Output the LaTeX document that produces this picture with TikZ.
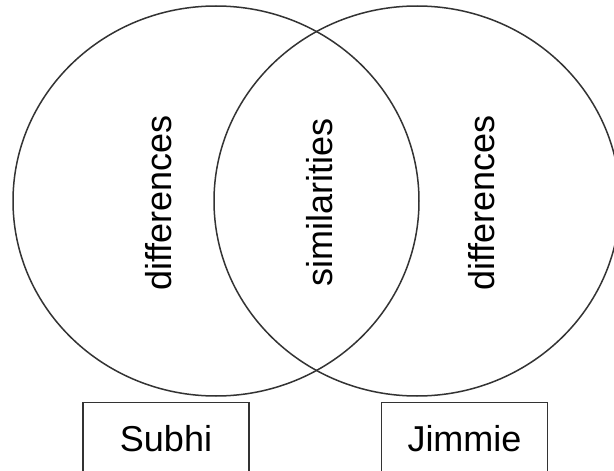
\documentclass[tikz,border=0pt]{standalone}
\usepackage{fontspec}
\setmainfont{Liberation Sans}
\usetikzlibrary{shapes.geometric}
\begin{document}
\begin{tikzpicture}[x=1pt,y=-1pt,
  ring/.style={ellipse, draw=black!80, line width=1.5pt, minimum width=406pt, minimum height=390pt, inner sep=0pt},
  vlabel/.style={rotate=90, inner sep=0pt, font=\fontsize{36}{40}\selectfont, anchor=center},
  namebox/.style={draw=black!80, line width=1.5pt, minimum width=166pt, minimum height=72pt, inner sep=0pt, text height=26pt, text depth=0pt, font=\fontsize{36}{40}\selectfont}]
\useasboundingbox (0,0) rectangle (614,471);
\clip (0,0) rectangle (614,471);
\fill[white] (0,0) rectangle (614,471);
\node[ring] (left) at (216,201) {};
\node[ring] (right) at (417,201) {};
\node[vlabel] (d1) at (158.5,203) {differences};
\node[vlabel] (sim) at (320,202) {similarities};
\node[vlabel] (d2) at (482,203) {differences};
\node[namebox] (subhi) at (166,438.7) {Subhi};
\node[namebox] (jimmie) at (464.5,438.7) {Jimmie};
\end{tikzpicture}
\end{document}
